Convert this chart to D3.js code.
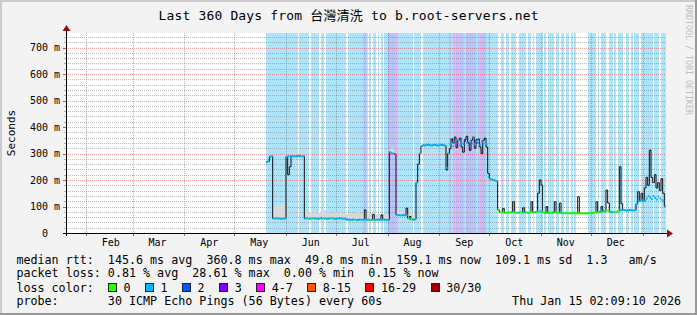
<!DOCTYPE html>
<html>
<head>
<meta charset="utf-8">
<script src="https://cdn.jsdelivr.net/npm/d3@7"></script>
<style>
  body { margin: 0; background: #f3f3f3; }
  svg text { font-family: "DejaVu Sans Mono", "Noto Sans CJK TC", monospace; white-space: pre; }
</style>
</head>
<body>
<svg id="chart" width="697" height="315"></svg>
<script>

var title = "Last 360 Days from 台灣清洗 to b.root-servers.net";
var monthNames = ["Jan", "Feb", "Mar", "Apr", "May", "Jun", "Jul", "Aug", "Sep", "Oct", "Nov", "Dec"];
var yTicks = [0, 100, 200, 300, 400, 500, 600, 700];

// days are counted from the start of the 360 day window; data begins at day 120
var firstDay = 120;

// median rtt in ms, one value per day (day 120 .. 359)
var medianRtt = [
  268, 270, 288, 290, 55, 55, 56, 55, 55, 54,
  55, 55, 288, 290, 290, 291, 289, 290, 290, 292,
  290, 289, 290, 55, 56, 55, 54, 55, 56, 55,
  55, 54, 55, 56, 55, 55, 54, 55, 55, 56,
  55, 54, 55, 55, 56, 55, 54, 55, 50, 51,
  50, 50, 51, 50, 49, 50, 51, 50, 50, 51,
  50, 50, 49, 50, 51, 50, 50, 51, 50, 50,
  51, 50, 50, 50, 305, 300, 300, 298, 68, 68,
  66, 67, 68, 66, 68, 55, 52, 52, 50, 52,
  190, 240, 300, 328, 332, 330, 333, 334, 331, 330,
  332, 333, 331, 330, 332, 333, 331, 330, 245, 300,
  335, 340, 328, 345, 338, 350, 332, 342, 336, 348,
  340, 330, 345, 338, 360, 335, 340, 346, 332, 344,
  338, 340, 336, 212, 205, 202, 200, 198, 196, 88,
  78, 77, 78, 76, 77, 78, 77, 79, 78, 77,
  76, 77, 78, 77, 76, 78, 77, 76, 77, 78,
  77, 78, 80, 79, 82, 80, 77, 76, 75, 76,
  77, 76, 78, 77, 76, 77, 76, 75, 76, 75,
  76, 75, 74, 75, 76, 75, 74, 75, 74, 75,
  74, 75, 74, 75, 76, 75, 76, 77, 76, 78,
  80, 78, 82, 80, 85, 84, 80, 78, 79, 78,
  80, 82, 88, 86, 87, 86, 85, 86, 87, 86,
  85, 86, 110, 122, 120, 125, 120, 123, 130, 140,
  135, 128, 140, 132, 126, 138, 130, 125, 120, 100
];

// dark smoke peaks [day, ms]
var peakRtt = [
  [133, 220], [134, 250], [179, 87], [184, 70], [189, 68], [204, 94], [206, 62], [211, 260],
  [228, 238], [230, 318], [231, 355], [232, 340], [233, 362], [234, 322], [236, 358],
  [237, 325], [238, 305], [239, 352], [240, 365], [241, 340], [242, 312], [243, 350],
  [244, 362], [245, 320], [246, 352], [247, 355], [248, 325], [249, 300], [250, 350],
  [251, 358], [252, 325], [253, 225],
  [262, 92], [268, 118], [274, 95], [279, 118], [283, 150], [284, 200], [285, 181],
  [288, 100], [293, 118], [296, 113], [307, 137], [318, 118], [321, 100], [324, 162],
  [325, 113], [332, 250], [333, 110],
  [343, 156], [345, 150], [347, 170], [348, 210], [349, 180], [350, 313], [351, 210],
  [352, 190], [353, 220], [354, 170], [355, 190], [356, 160], [357, 205], [358, 150]
];

// light smoke top [day, ms]
var smokeTop = [
  [124, 100], [125, 98], [126, 102], [127, 100], [128, 105], [129, 110], [130, 118], [131, 112],
  [143, 75], [144, 78], [145, 72], [146, 80], [147, 74], [148, 76], [149, 82], [150, 73],
  [151, 78], [152, 75], [153, 80], [154, 74], [155, 86], [156, 76], [157, 79], [158, 73],
  [159, 77], [160, 84], [161, 75], [162, 78], [163, 74], [164, 80], [165, 76], [166, 88],
  [167, 77], [168, 72], [169, 76], [170, 70], [171, 74], [172, 80], [173, 71], [174, 73],
  [175, 78], [176, 70], [177, 72], [178, 75], [179, 85], [180, 70], [181, 72], [182, 69],
  [183, 74], [184, 71], [185, 70], [186, 73], [187, 69], [188, 71], [189, 72], [190, 70],
  [191, 68], [192, 70], [193, 69],
  [194, 318], [195, 320], [196, 312], [197, 305],
  [198, 82], [199, 85], [200, 80], [201, 84], [202, 78], [203, 86], [204, 90], [205, 76],
  [206, 88], [207, 72], [208, 70], [209, 68]
];

// loss class per day (day 120 .. 359) for the background and for the median line
var bgLoss = ("1111111111 1111111110 1111110111 1101101111 1111111101 1111111143 " +
  "1010110101 0112222241 1111111101 1110111111 1111111111 2124242241 " +
  "3222421242 3211111110 0110110111 0011110110 1011110101 1110110110 " +
  "1101010000 0001111101 0111001101 0111001101 0111011111 1101110111")
  .replace(/ /g, "").split("").map(Number);
var lineLoss = ("1111111111 1111111111 1111101101 1111011110 1111111111 1110111111 " +
  "1101111111 1111111411 1111101011 1111111111 1111111111 1111411113 " +
  "1114112111 1111111110 0000000100 0100010000 0100100000 0010001000 " +
  "0000000000 0000000000 1010001100 0011111111 1111111111 1111111111")
  .replace(/ /g, "").split("").map(Number);

var lossLabels = ["0", "1", "2", "3", "4-7", "8-15", "16-29", "30/30"];
var lossColors = ["#26ff00", "#00b8ff", "#0059ff", "#7e00ff", "#ff00ff", "#ff5500", "#ff0000", "#a10000"];
var lossBack = [null, "#abe4fb", "#b7c4f8", "#c4b8f8", "#eab4f2"];

var rttStats = ["145.6 ms avg", "360.8 ms max", "49.8 ms min", "159.1 ms now", "109.1 ms sd", "1.3   am/s"];
var lossStats = ["0.81 % avg", "28.61 % max", "0.00 % min", "0.15 % now"];
var probeText = "30 ICMP Echo Pings (56 Bytes) every 60s";
var stampText = "Thu Jan 15 02:09:10 2026";

var svg = d3.select("#chart");
var W = 697, H = 315;

var endTime = new Date(Date.UTC(2026, 0, 15, 2, 9, 10));
var startTime = d3.utcDay.offset(endTime, -360);

var plotL = 66, plotR = 666, plotT = 33, plotB = 233;
var x = d3.scaleUtc().domain([startTime, endTime]).range([plotL, plotR]);
var y = d3.scaleLinear().domain([0, 755]).range([plotB, plotT]);
function dayX(d) { return x(d3.utcDay.offset(startTime, d)); }

// frame
svg.append("rect").attr("width", W).attr("height", H).attr("fill", "#f3f3f3");
svg.append("rect").attr("x", 0).attr("y", 0).attr("width", W).attr("height", 2).attr("fill", "#cbcbcb");
svg.append("rect").attr("x", 0).attr("y", 0).attr("width", 2).attr("height", H).attr("fill", "#cbcbcb");
svg.append("rect").attr("x", 0).attr("y", H - 2).attr("width", W).attr("height", 2).attr("fill", "#999");
svg.append("rect").attr("x", W - 2).attr("y", 0).attr("width", 2).attr("height", H).attr("fill", "#999");

svg.append("rect").attr("x", plotL).attr("y", plotT).attr("width", plotR - plotL).attr("height", plotB - plotT)
  .attr("fill", "#fff");

// loss background stripes
var bg = svg.append("g").attr("shape-rendering", "crispEdges");
bgLoss.forEach(function(c, i) {
  if (!c) return;
  var d = firstDay + i;
  bg.append("rect")
    .attr("x", dayX(d)).attr("y", plotT)
    .attr("width", dayX(d + 1) - dayX(d)).attr("height", plotB - plotT)
    .attr("fill", lossBack[c]);
});

// grid
var grid = svg.append("g").attr("shape-rendering", "crispEdges");
d3.range(20, 755, 20).forEach(function(v) {
  if (v % 100 === 0) return;
  var yy = Math.round(y(v)) + 0.5;
  grid.append("line").attr("x1", plotL).attr("x2", plotR).attr("y1", yy).attr("y2", yy)
    .attr("stroke", "rgba(120,120,120,0.5)").attr("stroke-dasharray", "1,1");
  grid.append("line").attr("x1", plotL - 2).attr("x2", plotL).attr("y1", yy).attr("y2", yy)
    .attr("stroke", "rgba(120,120,120,0.55)");
});
yTicks.slice(1).forEach(function(v) {
  var yy = Math.round(y(v)) + 0.5;
  grid.append("line").attr("x1", plotL).attr("x2", plotR).attr("y1", yy).attr("y2", yy)
    .attr("stroke", "rgba(220,60,60,0.5)").attr("stroke-dasharray", "1,1");
  grid.append("line").attr("x1", plotL - 3).attr("x2", plotL).attr("y1", yy).attr("y2", yy)
    .attr("stroke", "rgba(150,30,30,0.7)");
});
var months = d3.utcMonths(startTime, endTime);
months.forEach(function(m) {
  var xx = Math.round(x(m)) + 0.5;
  grid.append("line").attr("x1", xx).attr("x2", xx).attr("y1", plotT).attr("y2", plotB)
    .attr("stroke", "rgba(220,60,60,0.5)").attr("stroke-dasharray", "1,1");
  grid.append("line").attr("x1", xx).attr("x2", xx).attr("y1", plotB).attr("y2", plotB + 3)
    .attr("stroke", "rgba(150,30,30,0.7)");
});

// light smoke
var smoke = svg.append("g").attr("shape-rendering", "crispEdges");
smokeTop.forEach(function(p) {
  var med = medianRtt[p[0] - firstDay];
  smoke.append("rect")
    .attr("x", dayX(p[0])).attr("width", dayX(p[0] + 1) - dayX(p[0]))
    .attr("y", y(p[1])).attr("height", y(med) - y(p[1]))
    .attr("fill", "#d8d8d8");
});

// dark trace
var peakMap = new Map(peakRtt);
var trace = medianRtt.map(function(v, i) {
  var d = firstDay + i;
  return [dayX(d), y(peakMap.has(d) ? peakMap.get(d) : v)];
});
trace.push([dayX(firstDay + medianRtt.length), trace[trace.length - 1][1]]);
svg.append("path")
  .attr("d", d3.line().curve(d3.curveStepAfter)(trace))
  .attr("fill", "none").attr("stroke", "#111").attr("stroke-width", 1);

// median line coloured by loss
var med = svg.append("g");
medianRtt.forEach(function(v, i) {
  var d = firstDay + i;
  med.append("line")
    .attr("x1", dayX(d)).attr("x2", dayX(d + 1))
    .attr("y1", y(v)).attr("y2", y(v))
    .attr("stroke", lossColors[lineLoss[i]]).attr("stroke-width", 2);
});

// axes
svg.append("line").attr("x1", plotL - 3).attr("x2", plotR + 1).attr("y1", plotB + 0.5).attr("y2", plotB + 0.5)
  .attr("stroke", "#000");
svg.append("line").attr("x1", plotL + 0.5).attr("x2", plotL + 0.5).attr("y1", plotB + 3).attr("y2", plotT - 3)
  .attr("stroke", "#000");
svg.append("path").attr("d", "M667,229.5L667,237.5L673,233.5Z").attr("fill", "#8b1010");
svg.append("path").attr("d", "M62.5,31L70.5,31L66.5,25Z").attr("fill", "#8b1010");

// y labels
svg.append("g").selectAll("text").data(yTicks).join("text")
  .attr("x", function(d) { return d === 0 ? 48 : 60; })
  .attr("y", function(d) { return y(d) + 3.6; })
  .attr("text-anchor", "end")
  .attr("font-size", "10px")
  .text(function(d) { return d === 0 ? "0" : d + " m"; });

// x labels
var labelMonths = months.filter(function(m) { return d3.utcDay.offset(m, 15) < endTime; });
svg.append("g").selectAll("text").data(labelMonths).join("text")
  .attr("x", function(m) { return x(d3.utcDay.offset(m, 15)); })
  .attr("y", 246)
  .attr("text-anchor", "middle")
  .attr("font-size", "10px")
  .text(function(m) { return monthNames[m.getUTCMonth()]; });

svg.append("text")
  .attr("transform", "translate(15," + ((plotT + plotB) / 2) + ") rotate(-90)")
  .attr("text-anchor", "middle").attr("font-size", "11px")
  .text("Seconds");

svg.append("text")
  .attr("x", W / 2).attr("y", 20)
  .attr("text-anchor", "middle").attr("font-size", "13px")
  .attr("textLength", 380).attr("lengthAdjust", "spacing")
  .text(title);

svg.append("text")
  .attr("transform", "translate(685.5,5) rotate(90)")
  .attr("font-size", "8.3px").attr("fill", "#bdbdbd")
  .text("RRDTOOL / TOBI OETIKER");

// legend
var lx = 16.4, cw = 7.04, fs = "11.7px";
svg.append("text").attr("x", lx).attr("y", 264).attr("font-size", fs)
  .text("median rtt:  " + rttStats.join("  "));
svg.append("text").attr("x", lx).attr("y", 277).attr("font-size", fs)
  .text("packet loss: " + lossStats.join("  "));
svg.append("text").attr("x", lx).attr("y", 291.5).attr("font-size", fs)
  .text("loss color:");
var bx = lx + 13 * cw;
lossLabels.forEach(function(lab, i) {
  svg.append("rect").attr("x", Math.round(bx) + 0.5).attr("y", 283.5).attr("width", 8).attr("height", 8)
    .attr("fill", lossColors[i]).attr("stroke", "#222");
  svg.append("text").attr("x", bx + 15.6).attr("y", 291.5).attr("font-size", fs).text(lab);
  bx += 15.6 + lab.length * cw + 14.4;
});
svg.append("text").attr("x", lx).attr("y", 305).attr("font-size", fs)
  .text("probe:       " + probeText);
svg.append("text").attr("x", 681).attr("y", 305).attr("text-anchor", "end").attr("font-size", fs)
  .text(stampText);

</script>
</body>
</html>
